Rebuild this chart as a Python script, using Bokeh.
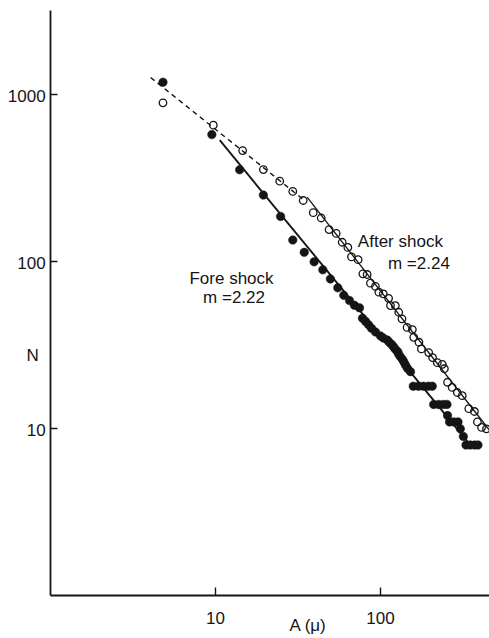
from bokeh.plotting import figure
from bokeh.models import Range1d, FixedTicker, CustomJSTickFormatter, Label
from bokeh.embed import file_html
from bokeh.resources import INLINE

# Fore shock (filled) : amplitude A (micron), count N
fore_A = [4.8, 9.5, 14.0, 19.5, 24.8, 29.4, 34.5, 39.6, 44.7, 49.7,
          55.1, 59.9, 64.9, 69.5, 74.6, 77.8, 81.1, 84.6, 88.2, 93.3,
          100, 104, 110, 113, 117, 120, 123, 127, 129, 132,
          136, 139, 142, 146, 152, 158, 170, 182, 195, 206,
          210, 225, 240, 253, 255, 262, 278, 295, 305, 318,
          330, 350, 372, 390]
fore_N = [1190, 578, 356, 251, 187, 135, 114, 100, 89.6, 79,
          69.9, 63, 58.6, 54.9, 53, 46, 44, 42, 40, 38,
          36, 35, 34, 33, 32, 31, 30, 29, 28, 27,
          26, 25, 24, 23, 22, 18, 18, 18, 18, 18,
          14, 14, 14, 14, 12, 11, 11, 11, 10, 9,
          8, 8, 8, 8]

# After shock (open)
aft_A = [4.8, 9.7, 14.6, 19.5, 24.5, 29.4, 34.0, 39.1, 43.7, 48.8,
         53.9, 58.6, 63.4, 66.7, 73.2, 78.2, 83.0, 86.9, 93.2, 97.7,
         104, 112, 115, 123, 129, 135, 145, 156, 159, 171,
         177, 196, 207, 221, 237, 244, 255, 272, 292, 313,
         343, 371, 387, 410, 439]
aft_N = [896, 658, 464, 357, 304, 264, 233, 197, 183, 156,
         148, 131, 122, 107, 103, 84.8, 84, 74.5, 71.2, 65.8,
         64.3, 60.5, 54.7, 54.7, 49.9, 45.6, 40.5, 39.3, 35.3, 33,
         30.1, 28.6, 26.7, 24.9, 24.3, 22.9, 19, 17.7, 16.5, 15.8,
         13.2, 12.7, 11, 10.2, 10]

# fitted lines
dash_A = [4.04, 34.1]
dash_N = [1270, 236]
fore_fit_A = [10.6, 340]
fore_fit_N = [535, 8.3]
aft_fit_A = [35.9, 458]
aft_fit_N = [244, 9.8]

x_ticks = [10, 100]
y_ticks = [10, 100, 1000]
x_tick_labels = ["10", "100"]
y_tick_labels = ["10", "100", "1000"]

A_MIN, A_MAX = 1, 458
N_MIN, N_MAX = 1, 3200

INK = "#151515"
FONT = "Liberation Sans"

p = figure(width=489, height=638, x_axis_type="log", y_axis_type="log",
           x_range=Range1d(0.497, 458), y_range=Range1d(0.555, 3673),
           output_backend="svg", toolbar_location=None,
           min_border_left=0, min_border_right=0,
           min_border_top=0, min_border_bottom=0)
p.outline_line_color = None
p.xgrid.visible = False
p.ygrid.visible = False
p.background_fill_color = "white"
p.border_fill_color = "white"

p.xaxis[0].fixed_location = N_MIN
p.yaxis[0].fixed_location = A_MIN
p.xaxis[0].bounds = (A_MIN, A_MAX)
p.yaxis[0].bounds = (N_MIN, N_MAX)

for ax, ticks in ((p.xaxis[0], x_ticks), (p.yaxis[0], y_ticks)):
    ax.ticker = FixedTicker(ticks=ticks, minor_ticks=[])
    ax.formatter = CustomJSTickFormatter(code="return ''")
    ax.axis_line_color = INK
    ax.axis_line_width = 1.8
    ax.major_tick_line_color = INK
    ax.major_tick_line_width = 1.4
    ax.major_tick_out = 0
    ax.minor_tick_line_color = None
    ax.major_label_text_font_size = "1px"
p.xaxis[0].major_tick_in = 8
p.yaxis[0].major_tick_in = 7

# lines
p.line(dash_A, dash_N, line_color=INK, line_width=1.4, line_dash="5 4")
p.line(fore_fit_A, fore_fit_N, line_color=INK, line_width=1.9)
p.line(aft_fit_A, aft_fit_N, line_color=INK, line_width=1.3)

# points
p.scatter(aft_A, aft_N, marker="circle", size=7.5, fill_color=None,
          line_color=INK, line_width=1.3)
p.scatter(fore_A, fore_N, marker="circle", size=8.5, fill_color=INK,
          line_color=INK, line_width=0.5)

def lab(x, y, t, align="center", size="17px"):
    p.add_layout(Label(x=x, y=y, text=t, text_align=align,
                       text_baseline="alphabetic", text_font=FONT,
                       text_font_size=size, text_color=INK))

# tick labels
for v, t in zip(y_ticks, y_tick_labels):
    lab(0.933, v * 0.98, t, align="right")
for v, t in zip(x_ticks, x_tick_labels):
    lab(v, 0.741, t)

# axis titles
lab(0.778, 27.5, "N")
lab(36.4, 0.66, "A (\u03bc)")

# annotations
lab(12.5, 79.4, "Fore shock")
lab(12.95, 61.1, "m =2.22")
lab(132, 133.2, "After shock")
lab(171, 97.7, "m =2.24")

open("out.html", "w").write(file_html(p, INLINE))
